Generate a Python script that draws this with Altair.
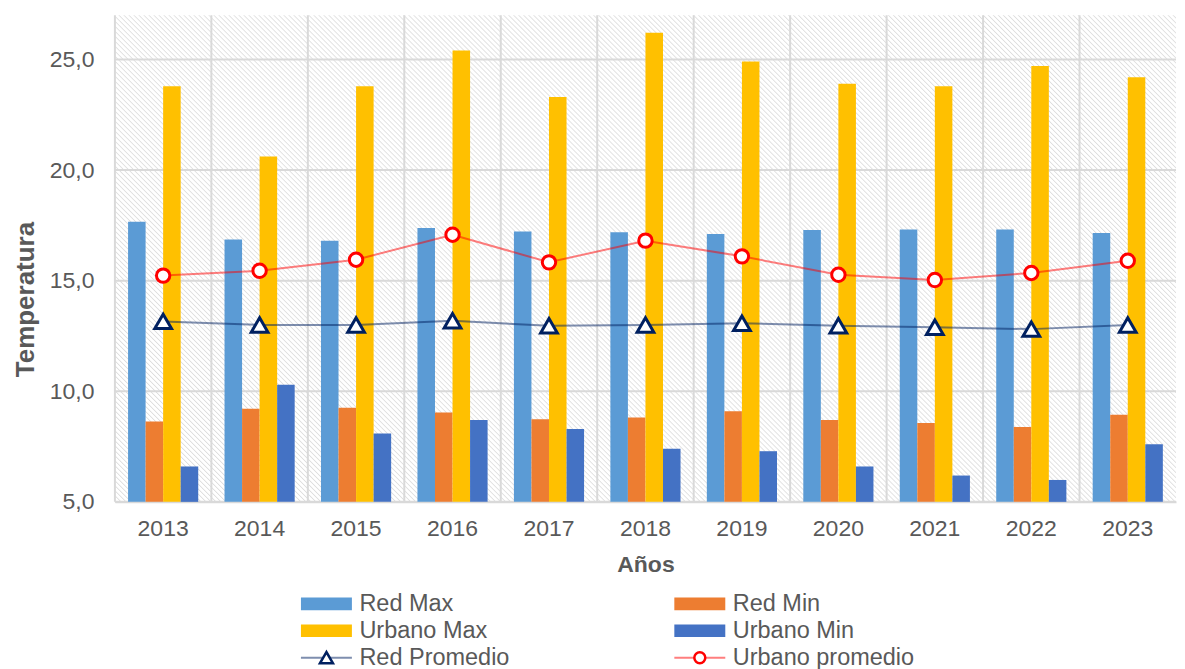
import math
import altair as alt
import pandas as pd

# ---------------- data ----------------
years = ["2013", "2014", "2015", "2016", "2017", "2018", "2019", "2020", "2021", "2022", "2023"]
red_max = [17.67, 16.86, 16.81, 17.38, 17.22, 17.19, 17.11, 17.29, 17.31, 17.31, 17.16]
red_min = [8.63, 9.21, 9.25, 9.04, 8.74, 8.81, 9.10, 8.70, 8.57, 8.39, 8.94]
urbano_max = [23.79, 20.61, 23.79, 25.41, 23.31, 26.21, 24.91, 23.90, 23.79, 24.71, 24.20]
urbano_min = [6.60, 10.29, 8.09, 8.70, 8.29, 7.40, 7.29, 6.60, 6.19, 5.99, 7.61]
red_promedio = [13.16, 13.00, 13.00, 13.19, 12.96, 13.00, 13.08, 12.96, 12.89, 12.81, 13.00]
urbano_promedio = [15.23, 15.45, 15.95, 17.08, 15.83, 16.81, 16.10, 15.27, 15.03, 15.35, 15.90]

bar_series = ["Red Max", "Red Min", "Urbano Max", "Urbano Min"]
line_series = ["Red Promedio", "Urbano promedio"]
all_series = bar_series + line_series
y_ticks = [5, 10, 15, 20, 25]

# ---------------- styles ----------------
colors = ["#5B9BD5", "#ED7D31", "#FFC000", "#4472C4", "#002060", "#FF0000"]
font = "Liberation Sans"
text_color = "#595959"
grid_color = "#d9d9d9"
W, H = 1062, 487

bars_df = pd.DataFrame(
    [{"anio": y, "serie": s, "valor": v}
     for s, vals in zip(bar_series, [red_max, red_min, urbano_max, urbano_min])
     for y, v in zip(years, vals)]
)
lines_df = pd.DataFrame(
    [{"anio": y, "serie": s, "valor": v}
     for s, vals in zip(line_series, [red_promedio, urbano_promedio])
     for y, v in zip(years, vals)]
)
years_df = pd.DataFrame({"anio": years})
ticks_df = pd.DataFrame({"valor": y_ticks})

# hatched background as a striped linear gradient (45deg backslash lines), soft profile
period = 5.0
span = W + H
k = span / (W * W + H * H)
stops = []
n = int(math.ceil(span / period))
for i in range(n):
    a = i * period
    for off, col in [(0.0, "#ffffff"), (1.1, "#dedede"), (2.4, "#ffffff")]:
        o = (a + off) / span
        if o <= 1.0:
            stops.append({"color": col, "offset": o})
hatch = {"gradient": "linear", "x1": 0, "y1": 1, "x2": W * k, "y2": 1 - H * k, "stops": stops}

color_scale = alt.Scale(domain=all_series, range=colors)
stroke_scale = alt.Scale(domain=line_series, range=colors[4:])

x_axis = alt.Axis(
    labelAngle=0, grid=False, ticks=False, tickSize=0, labelPadding=16, titlePadding=13,
    domainColor=grid_color, domainWidth=2,
    labelFont=font, labelFontSize=23, labelColor=text_color,
    titleFont=font, titleFontSize=23, titleColor=text_color, titleFontWeight="bold",
)
x_scale = alt.Scale(domain=years, paddingInner=0, paddingOuter=0)
x_enc = alt.X("anio:N", title="Años", scale=x_scale, axis=x_axis)
y_enc = alt.Y(
    "valor:Q",
    title="Temperatura",
    scale=alt.Scale(domain=[5, 27], nice=False, zero=False),
    axis=alt.Axis(
        values=y_ticks, labelExpr="replace(format(datum.value, '.1f'), '.', ',')",
        grid=False, domain=False, ticks=False, tickSize=0,
        labelPadding=21, titlePadding=11, titleY=284,
        labelFont=font, labelFontSize=23, labelColor=text_color,
        titleFont=font, titleFontSize=26, titleColor=text_color, titleFontWeight="bold",
    ),
)

bg = alt.Chart(pd.DataFrame({"a": [0]})).mark_rect(fill=hatch, strokeWidth=0).encode(
    x=alt.value(0), x2=alt.value("width"), y=alt.value(0), y2=alt.value("height")
)
hgrid = alt.Chart(ticks_df).mark_rule(color=grid_color, strokeWidth=2).encode(y=y_enc)
vgrid = alt.Chart(years_df).mark_rule(color=grid_color, strokeWidth=2).encode(
    x=alt.X("anio:N", title="Años", scale=x_scale, axis=x_axis, bandPosition=0)
)

bars = alt.Chart(bars_df).mark_bar().encode(
    x=x_enc,
    xOffset=alt.XOffset("serie:N", scale=alt.Scale(domain=bar_series, paddingInner=0, paddingOuter=0.75)),
    y=y_enc,
    y2=alt.datum(5),
    color=alt.Color("serie:N", scale=color_scale, legend=None),
)
lines = alt.Chart(lines_df).mark_line(strokeWidth=2, opacity=0.5).encode(
    x=x_enc, y=y_enc, color=alt.Color("serie:N", scale=color_scale, legend=None)
)
tri = alt.Chart(lines_df).transform_filter(alt.datum.serie == "Red Promedio").mark_point(
    shape="triangle-up", size=280, filled=True, fill="white", strokeWidth=3, opacity=1
).encode(x=x_enc, y=y_enc, stroke=alt.Stroke("serie:N", scale=stroke_scale, legend=None))
circ = alt.Chart(lines_df).transform_filter(alt.datum.serie == "Urbano promedio").mark_point(
    shape="circle", size=180, filled=True, fill="white", strokeWidth=3, opacity=1
).encode(x=x_enc, y=y_enc, stroke=alt.Stroke("serie:N", scale=stroke_scale, legend=None))

main = alt.layer(bg, hgrid, vgrid, bars, lines, tri, circ).properties(width=W, height=H)

# ---------------- legend (two columns, three rows) ----------------
leg_df = pd.DataFrame({
    "serie": all_series,
    "col": [i % 2 for i in range(len(all_series))],
    "fila": [i // 2 for i in range(len(all_series))],
    "tipo": ["barra"] * len(bar_series) + ["linea"] * len(line_series),
})
lx = alt.X("col:Q", scale=alt.Scale(domain=[0, 1], range=[211.7, 585.4]), axis=None)
ly = alt.Y("fila:Q", scale=alt.Scale(domain=[0, 2], range=[17, 71]), axis=None)
base = alt.Chart(leg_df).encode(x=lx, y=ly)

leg_bar = base.transform_filter(alt.datum.tipo == "barra").mark_point(
    shape="M-1,-0.25H1V0.25H-1Z", size=2601, filled=True, opacity=1, strokeWidth=0
).encode(color=alt.Color("serie:N", scale=color_scale, legend=None))
leg_line = base.transform_filter(alt.datum.tipo == "linea").mark_point(
    shape="M-1,0H1", size=2601, filled=False, strokeWidth=2, opacity=0.5
).encode(color=alt.Color("serie:N", scale=color_scale, legend=None))
leg_tri = base.transform_filter(alt.datum.serie == "Red Promedio").mark_point(
    shape="triangle-up", size=170, filled=True, fill="white", strokeWidth=2.5, opacity=1
).encode(stroke=alt.Stroke("serie:N", scale=stroke_scale, legend=None))
leg_circ = base.transform_filter(alt.datum.serie == "Urbano promedio").mark_point(
    shape="circle", size=120, filled=True, fill="white", strokeWidth=2.5, opacity=1
).encode(stroke=alt.Stroke("serie:N", scale=stroke_scale, legend=None))
leg_text = base.mark_text(
    align="left", baseline="middle", dx=33, font=font, fontSize=23.5, color=text_color
).encode(text="serie:N")

legend = alt.layer(leg_bar, leg_line, leg_tri, leg_circ, leg_text).properties(width=900, height=60)

chart = alt.vconcat(main, legend, spacing=10).properties(
    padding={"left": 4, "top": 6, "right": 0, "bottom": 0}
).configure_view(stroke=None)

chart.save("out.html", embed_options={"renderer": "svg", "actions": False})
